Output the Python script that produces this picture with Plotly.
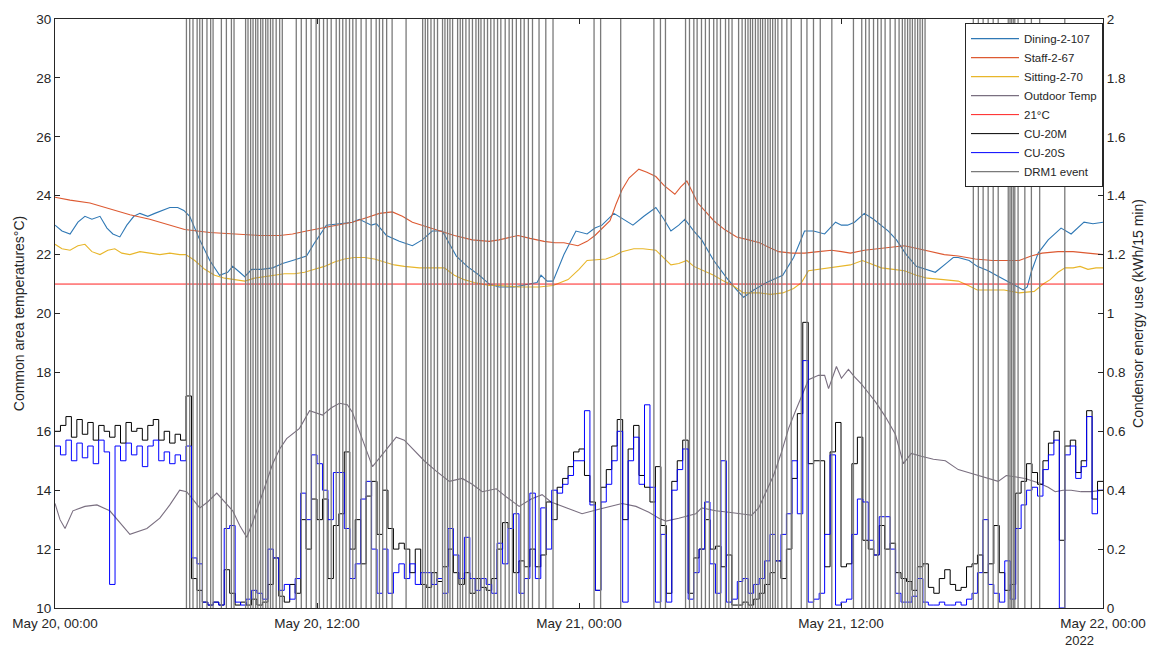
import numpy as np
import pandas as pd
import plotly.graph_objects as go

BASE = pd.Timestamp("2022-05-20 00:00")

# ---------------- data (hours since May 20 00:00) ----------------
dining_h = [0, 0.32, 0.69, 1.05, 1.37, 1.69, 2.06, 2.38, 2.65, 2.97, 3.29, 3.61, 3.89, 4.25, 4.57, 4.89, 5.26, 5.62, 5.90, 6.17,
            6.63, 7.09, 7.54, 7.91, 8.14, 8.46, 8.69, 9.01, 9.46, 9.97, 10.42, 10.88, 11.52, 11.89, 12.43, 13.03, 13.62, 13.94,
            14.49, 14.72, 15.18, 15.77, 16.37, 16.82, 17.28, 17.74, 18.38, 18.88, 19.43, 19.89, 20.34, 21.03, 21.71, 22.08,
            22.26, 22.54, 22.81, 23.31, 23.86, 24.37, 24.73, 25.05, 25.60, 26.06, 26.47, 26.97, 27.52, 27.89, 28.21, 28.57,
            28.85, 29.26, 29.62, 30.17, 30.77, 31.22, 31.54, 32.00, 32.59, 33.33, 33.83, 34.33, 34.74, 35.25, 35.75, 36.02,
            36.30, 36.62, 37.07, 37.49, 37.85, 38.17, 38.54, 38.99, 39.45, 39.91, 40.32, 40.82, 41.14, 41.37, 41.87, 42.24,
            42.74, 43.11, 43.57, 43.98, 44.34, 44.53, 44.71, 45.03, 45.49, 46.08, 46.54, 46.86, 47.13, 47.54, 48]
dining_t = [23.0, 22.8, 22.7, 23.1, 23.3, 23.2, 23.3, 22.9, 22.7, 22.6, 23.0, 23.3, 23.4, 23.3, 23.4, 23.5, 23.6, 23.6, 23.5, 23.3,
            22.5, 21.8, 21.3, 21.4, 21.6, 21.4, 21.25, 21.5, 21.5, 21.55, 21.7, 21.8, 21.95, 22.4, 23.0, 23.05, 23.1, 23.2,
            23.0, 23.05, 22.65, 22.45, 22.3, 22.5, 22.8, 22.8, 21.95, 21.6, 21.3, 21.0, 20.9, 20.9, 21.0, 21.05,
            21.3, 21.1, 21.1, 22.0, 22.8, 22.7, 22.9, 23.0, 23.4, 23.2, 23.0, 23.3, 23.6, 23.2, 22.8, 23.0,
            23.2, 22.8, 22.5, 21.8, 21.2, 20.8, 20.55, 20.8, 21.05, 21.3, 21.9, 22.8, 22.8, 22.7, 23.1, 23.0,
            23.0, 23.1, 23.4, 23.2, 23.0, 22.8, 22.5, 22.0, 21.6, 21.5, 21.4, 21.7, 21.9, 21.9, 21.8, 21.6,
            21.45, 21.3, 21.1, 20.95, 20.8, 20.9, 21.4, 22.05, 22.5, 22.9, 22.7, 22.9, 23.1, 23.05, 23.1]

staff_h = [0, 0.69, 1.60, 2.51, 3.43, 4.34, 5.26, 5.94, 7.09, 8.46, 9.37, 10.29, 10.88, 11.52, 12.25, 13.03, 13.62, 14.26,
           14.86, 15.45, 15.91, 16.37, 17.01, 17.60, 18.29, 19.11, 19.89, 20.34, 21.21, 21.76, 22.40, 22.90, 23.31, 23.95,
           24.37, 24.73, 25.10, 25.42, 25.69, 25.97, 26.29, 26.74, 27.11, 27.52, 27.89, 28.39, 28.66, 28.94, 29.21, 29.44,
           29.81, 30.17, 30.67, 31.22, 31.77, 32.27, 32.69, 33.14, 33.74, 34.33, 34.97, 35.57, 36.02, 36.43, 37.07, 37.67,
           38.31, 38.90, 39.54, 40.14, 40.73, 41.37, 42.15, 42.93, 43.57, 44.16, 44.71, 45.21, 45.94, 46.63, 47.31, 48]
staff_t = [23.95, 23.85, 23.75, 23.55, 23.35, 23.2, 23.0, 22.85, 22.75, 22.7, 22.65, 22.65, 22.7, 22.8, 22.9, 23.0, 23.1, 23.25,
           23.4, 23.45, 23.3, 23.1, 22.95, 22.8, 22.65, 22.5, 22.45, 22.5, 22.65, 22.55, 22.45, 22.4, 22.4, 22.3,
           22.45, 22.65, 22.9, 23.15, 23.7, 24.2, 24.6, 24.9, 24.8, 24.65, 24.35, 24.05, 24.3, 24.5, 24.1, 23.75,
           23.45, 23.15, 22.85, 22.6, 22.5, 22.4, 22.25, 22.1, 22.05, 22.05, 22.1, 22.15, 22.1, 22.05, 22.15, 22.2,
           22.25, 22.3, 22.2, 22.1, 22.0, 21.95, 21.85, 21.8, 21.8, 21.8, 21.95, 22.05, 22.1, 22.1, 22.05, 22.0]

sitting_h = [0, 0.32, 0.69, 1.05, 1.37, 1.69, 2.06, 2.42, 2.74, 3.06, 3.43, 3.89, 4.34, 4.80, 5.26, 5.71, 5.99, 6.40, 6.86,
             7.31, 7.77, 8.23, 8.69, 9.14, 9.60, 10.06, 10.51, 10.97, 11.43, 11.89, 12.34, 12.80, 13.26, 13.71, 14.17, 14.63,
             15.09, 15.54, 16.00, 16.69, 17.37, 17.83, 18.29, 18.74, 19.20, 19.89, 20.34, 21.26, 22.17, 22.81, 23.50, 24.00,
             24.37, 25.23, 25.60, 25.97, 26.51, 26.93, 27.52, 27.89, 28.21, 28.57, 28.94, 29.26, 29.71, 30.17, 30.63, 31.04,
             31.54, 32.27, 32.78, 33.33, 33.83, 34.19, 34.51, 34.97, 35.57, 36.43, 36.98, 37.49, 37.85, 38.40, 38.90, 39.45,
             39.95, 40.69, 41.37, 41.83, 42.24, 42.97, 43.47, 44.16, 44.85, 45.26, 45.58, 45.94, 46.26, 46.63, 46.95, 47.31,
             47.68, 48]
sitting_t = [22.35, 22.2, 22.15, 22.3, 22.35, 22.1, 22.0, 22.15, 22.2, 22.05, 22.0, 22.1, 22.05, 22.0, 22.05, 22.0, 22.0, 21.8, 21.5,
             21.3, 21.2, 21.15, 21.1, 21.2, 21.25, 21.3, 21.35, 21.35, 21.4, 21.5, 21.6, 21.75, 21.85, 21.9, 21.9, 21.85,
             21.75, 21.65, 21.6, 21.55, 21.55, 21.55, 21.3, 21.15, 21.05, 20.95, 20.95, 20.9, 20.9, 20.95, 21.15, 21.5,
             21.8, 21.85, 21.95, 22.1, 22.2, 22.2, 22.15, 21.9, 21.65, 21.7, 21.8, 21.6, 21.45, 21.3, 21.1, 20.95,
             20.7, 20.7, 20.65, 20.7, 20.85, 21.05, 21.45, 21.5, 21.55, 21.65, 21.8, 21.65, 21.55, 21.5, 21.45, 21.3,
             21.2, 21.15, 21.1, 20.95, 20.8, 20.8, 20.8, 20.7, 20.75, 21.0, 21.15, 21.4, 21.55, 21.55, 21.6, 21.5,
             21.55, 21.55]

outdoor_h = [0, 0.23, 0.46, 0.82, 1.37, 1.92, 2.51, 2.97, 3.43, 4.21, 4.80, 5.26, 5.71, 6.03, 6.31, 6.63, 6.99, 7.41, 7.77,
             8.14, 8.46, 8.78, 9.05, 9.37, 9.69, 9.97, 10.29, 10.61, 11.20, 11.66, 12.25, 12.66, 13.03, 13.39, 13.62, 13.94,
             14.26, 14.54, 15.09, 15.63, 16.00, 16.37, 16.91, 17.46, 18.06, 18.65, 19.11, 19.57, 20.21, 20.71, 21.26, 21.81,
             22.31, 22.72, 23.09, 23.63, 24.14, 24.91, 25.46, 25.97, 26.61, 27.20, 27.66, 27.98, 28.57, 29.35, 29.62, 30.26,
             30.86, 31.45, 31.91, 32.23, 32.55, 32.91, 33.28, 33.60, 33.92, 34.19, 34.51, 34.97, 35.25, 35.43, 35.79, 36.02,
             36.34, 36.62, 36.94, 37.26, 37.58, 38.03, 38.49, 38.86, 39.22, 39.68, 40.23, 40.78, 41.37, 41.83, 42.29, 42.74,
             43.20, 43.57, 43.98, 44.43, 45.03, 45.49, 45.81, 46.17, 46.54, 46.99, 47.45, 48]
outdoor_t = [13.55, 13.0, 12.7, 13.3, 13.45, 13.5, 13.3, 12.9, 12.5, 12.7, 13.05, 13.5, 14.0, 13.95, 13.7, 13.4, 13.6, 13.9, 13.6,
             13.3, 12.8, 12.4, 12.9, 13.6, 14.3, 14.9, 15.4, 15.75, 16.1, 16.7, 16.55, 16.8, 16.95, 16.9, 16.65, 16.0,
             15.4, 14.8, 15.3, 15.8, 15.7, 15.4, 15.0, 14.65, 14.3, 14.4, 14.2, 13.95, 14.05, 13.75, 13.45, 13.7,
             13.85, 13.6, 13.5, 13.35, 13.2, 13.35, 13.45, 13.55, 13.45, 13.25, 13.05, 12.95, 13.05, 13.2, 13.4, 13.3,
             13.25, 13.2, 13.15, 13.4, 13.9, 14.5, 15.3, 16.1, 16.7, 17.2, 17.75, 17.9, 17.9, 17.45, 18.2, 17.8,
             18.1, 17.85, 17.6, 17.3, 17.0, 16.5, 15.9, 14.9, 15.25, 15.15, 15.05, 15.0, 14.7, 14.6, 14.5, 14.4,
             14.3, 14.5, 14.45, 14.4, 14.25, 14.1, 13.95, 14.0, 14.0, 13.95, 13.95, 14.0]

threshold_h = [0, 48]
threshold_t = [21, 21]

# condenser energy, kWh per 15 min, one value per 15-minute interval (192 values)
cu20m = [0.60, 0.62, 0.65, 0.58, 0.64, 0.59, 0.63, 0.57, 0.62, 0.60, 0.58, 0.62, 0.56, 0.63, 0.60, 0.61,
         0.57, 0.62, 0.64, 0.57, 0.60, 0.56, 0.59, 0.57, 0.72, 0.10, 0.06, 0.02, 0.01, 0.02, 0.01, 0.13,
         0.05, 0.01, 0.02, 0.01, 0.03, 0.01, 0.02, 0.08, 0.17, 0.04, 0.02, 0.08, 0.05, 0.30, 0.20, 0.37,
         0.30, 0.37, 0.10, 0.28, 0.32, 0.53, 0.20, 0.30, 0.15, 0.38, 0.43, 0.25, 0.40, 0.27, 0.20, 0.22,
         0.20, 0.12, 0.20, 0.08, 0.07, 0.12, 0.09, 0.14, 0.20, 0.12, 0.08, 0.12, 0.05, 0.10, 0.07, 0.06,
         0.10, 0.20, 0.29, 0.27, 0.12, 0.16, 0.14, 0.20, 0.14, 0.18, 0.36, 0.30, 0.41, 0.44, 0.48, 0.53,
         0.54, 0.45, 0.36, 0.06, 0.41, 0.47, 0.55, 0.64, 0.30, 0.54, 0.62, 0.45, 0.41, 0.36, 0.48, 0.28,
         0.05, 0.43, 0.50, 0.57, 0.05, 0.17, 0.20, 0.30, 0.20, 0.21, 0.14, 0.18, 0.01, 0.01, 0.02, 0.01,
         0.03, 0.05, 0.08, 0.12, 0.16, 0.10, 0.20, 0.44, 0.66, 0.97, 0.49, 0.50, 0.50, 0.14, 0.53, 0.63,
         0.14, 0.15, 0.49, 0.58, 0.23, 0.20, 0.18, 0.28, 0.20, 0.22, 0.12, 0.10, 0.09, 0.06, 0.14, 0.15,
         0.07, 0.05, 0.10, 0.13, 0.08, 0.06, 0.07, 0.14, 0.15, 0.18, 0.12, 0.15, 0.28, 0.12, 0.06, 0.08,
         0.39, 0.43, 0.49, 0.46, 0.42, 0.50, 0.56, 0.60, 0.23, 0.55, 0.57, 0.46, 0.50, 0.67, 0.37, 0.43]
cu20s = [0.55, 0.52, 0.57, 0.50, 0.56, 0.51, 0.55, 0.49, 0.57, 0.53, 0.08, 0.55, 0.50, 0.56, 0.52, 0.55,
         0.48, 0.55, 0.57, 0.50, 0.53, 0.49, 0.52, 0.50, 0.55, 0.17, 0.15, 0.02, 0.01, 0.02, 0.01, 0.27,
         0.28, 0.02, 0.01, 0.03, 0.06, 0.05, 0.03, 0.20, 0.17, 0.06, 0.08, 0.03, 0.10, 0.39, 0.30, 0.52,
         0.49, 0.40, 0.30, 0.46, 0.46, 0.27, 0.10, 0.15, 0.37, 0.43, 0.20, 0.05, 0.20, 0.05, 0.12, 0.15,
         0.10, 0.15, 0.08, 0.12, 0.12, 0.08, 0.10, 0.05, 0.27, 0.18, 0.10, 0.24, 0.10, 0.06, 0.10, 0.08,
         0.05, 0.22, 0.15, 0.27, 0.32, 0.05, 0.10, 0.39, 0.10, 0.34, 0.20, 0.40, 0.39, 0.42, 0.45, 0.50,
         0.50, 0.67, 0.35, 0.06, 0.36, 0.42, 0.50, 0.60, 0.02, 0.50, 0.58, 0.42, 0.69, 0.41, 0.02, 0.25,
         0.02, 0.40, 0.47, 0.54, 0.03, 0.12, 0.20, 0.36, 0.15, 0.05, 0.50, 0.02, 0.03, 0.09, 0.10, 0.05,
         0.08, 0.10, 0.16, 0.25, 0.16, 0.25, 0.32, 0.50, 0.32, 0.84, 0.02, 0.03, 0.05, 0.25, 0.52, 0.01,
         0.02, 0.03, 0.25, 0.37, 0.36, 0.23, 0.18, 0.31, 0.31, 0.20, 0.05, 0.02, 0.02, 0.04, 0.10, 0.02,
         0.01, 0.01, 0.02, 0.01, 0.01, 0.02, 0.01, 0.03, 0.05, 0.12, 0.30, 0.08, 0.05, 0.02, 0.16, 0.03,
         0.27, 0.35, 0.40, 0.41, 0.38, 0.47, 0.52, 0.57, 0.00, 0.52, 0.55, 0.44, 0.48, 0.65, 0.32, 0.40]

# DRM1 event switching instants (hours since start)
drm_h = [6.02, 6.17, 6.32, 6.51, 6.63, 6.75, 6.96, 7.13, 7.24, 7.62, 7.85, 8.08, 8.20, 8.73, 8.84, 8.96, 9.07, 9.19, 9.29,
         9.42, 9.52, 9.65, 9.75, 9.87, 9.98, 10.13, 10.29, 10.41, 11.05, 11.28, 11.51, 11.73, 11.96, 12.11, 12.30, 12.47,
         12.65, 12.88, 13.03, 13.18, 13.33, 13.49, 13.64, 13.79, 14.02, 14.25, 14.48, 14.71, 14.86, 15.01, 15.19, 15.44,
         16.08, 16.84, 16.96, 17.07, 17.22, 17.37, 17.52, 17.75, 17.86, 17.98, 18.09, 18.21, 18.44, 18.56, 18.67, 18.82,
         18.97, 19.12, 19.28, 19.40, 19.51, 19.66, 19.81, 19.96, 20.11, 20.27, 20.42, 20.62, 20.80, 20.95, 21.13, 21.33,
         21.49, 21.68, 21.87, 22.17, 22.48, 22.81, 24.69, 24.99, 25.91, 27.43, 27.73, 27.96, 28.88, 29.06, 29.26, 29.41,
         29.61, 29.79, 29.97, 30.17, 30.32, 30.48, 30.71, 30.86, 31.01, 31.31, 31.47, 31.62, 31.74, 31.85, 31.95, 32.08,
         32.20, 32.31, 32.41, 32.53, 32.65, 32.76, 32.87, 32.99, 33.11, 33.29, 33.52, 33.72, 34.18, 34.44, 34.74, 35.05,
         35.58, 36.57, 36.95, 37.13, 37.29, 37.49, 37.68, 37.84, 38.02, 38.25, 38.48, 38.66, 38.81, 38.93, 39.05, 39.16,
         39.27, 39.39, 39.51, 39.62, 39.73, 39.85, 42.06, 42.29, 42.51, 42.74, 42.97, 43.20, 43.66, 43.74, 43.81, 43.89,
         43.96, 44.11, 44.42, 44.72, 45.10, 46.25]
drm_low, drm_high = 0, 2

x_ticks_h = [0, 12, 24, 36, 48]
x_tick_text = ["May 20, 00:00", "May 20, 12:00", "May 21, 00:00", "May 21, 12:00", "May 22, 00:00"]


def t(hours):
    return [BASE + pd.Timedelta(hours=float(h)) for h in hours]


FONT = "Liberation Sans, Arial, sans-serif"
INK = "#262626"

fig = go.Figure()
fig.add_trace(go.Scatter(x=t(dining_h), y=dining_t, mode="lines", name="Dining-2-107",
                         line=dict(color="#2f78b5", width=1.1)))
fig.add_trace(go.Scatter(x=t(staff_h), y=staff_t, mode="lines", name="Staff-2-67",
                         line=dict(color="#dd5a32", width=1.1)))
fig.add_trace(go.Scatter(x=t(sitting_h), y=sitting_t, mode="lines", name="Sitting-2-70",
                         line=dict(color="#e8b62a", width=1.1)))
fig.add_trace(go.Scatter(x=t(outdoor_h), y=outdoor_t, mode="lines", name="Outdoor Temp",
                         line=dict(color="#7a6f80", width=1.1)))
fig.add_trace(go.Scatter(x=t(threshold_h), y=threshold_t, mode="lines", name="21°C",
                         line=dict(color="#ff2020", width=1)))

step_h = list(np.arange(len(cu20m)) * 0.25) + [48]
fig.add_trace(go.Scatter(x=t(step_h), y=cu20m + [cu20m[-1]], mode="lines", name="CU-20M", yaxis="y2",
                         line=dict(color="#000000", width=1, shape="hv")))
fig.add_trace(go.Scatter(x=t(step_h), y=cu20s + [cu20s[-1]], mode="lines", name="CU-20S", yaxis="y2",
                         line=dict(color="#0000ff", width=1, shape="hv")))

drm_x, drm_y = [], []
for h in drm_h:
    ts = BASE + pd.Timedelta(hours=h)
    drm_x += [ts, ts, None]
    drm_y += [drm_low, drm_high, None]
fig.add_trace(go.Scatter(x=drm_x, y=drm_y, mode="lines", name="DRM1 event", yaxis="y2",
                         line=dict(color="#7a7a7a", width=1.3)))

fig.update_layout(
    width=1158, height=649,
    margin=dict(l=55, r=53, t=14, b=41),
    paper_bgcolor="white", plot_bgcolor="white",
    font=dict(family=FONT, size=13, color=INK),
    showlegend=True,
    legend=dict(x=1, xanchor="right", y=0.993, yanchor="top", bgcolor="white",
                bordercolor=INK, borderwidth=1, font=dict(size=11.5, color=INK),
                tracegroupgap=0, itemwidth=48),
    xaxis=dict(type="date", range=[BASE, BASE + pd.Timedelta(hours=48)],
               tickvals=t(x_ticks_h), ticktext=x_tick_text,
               ticks="inside", ticklen=5, tickcolor=INK, showline=True, linecolor=INK, linewidth=1,
               mirror="ticks", showgrid=False, zeroline=False, tickfont=dict(size=13.5),
               ticklabelstandoff=3),
    yaxis=dict(range=[10, 30], dtick=2, tick0=10, ticks="inside", ticklen=5, tickcolor=INK,
               showline=True, linecolor=INK, linewidth=1, showgrid=False, zeroline=False,
               title=dict(text="Common area temperatures°C)", font=dict(size=14), standoff=8),
               tickfont=dict(size=13.5)),
    yaxis2=dict(range=[0, 2], dtick=0.2, tick0=0, overlaying="y", side="right", anchor="x",
                ticks="inside", ticklen=5, tickcolor=INK, showline=True, linecolor=INK, linewidth=1,
                showgrid=False, zeroline=False,
                title=dict(text="Condensor energy use (kWh/15 min)", font=dict(size=14), standoff=8),
                tickfont=dict(size=13.5)),
    annotations=[dict(text="2022", xref="paper", yref="paper", x=0.978, y=-0.056,
                      xanchor="center", yanchor="middle", showarrow=False,
                      font=dict(size=13, color=INK))],
)

fig.write_html("out.html")
